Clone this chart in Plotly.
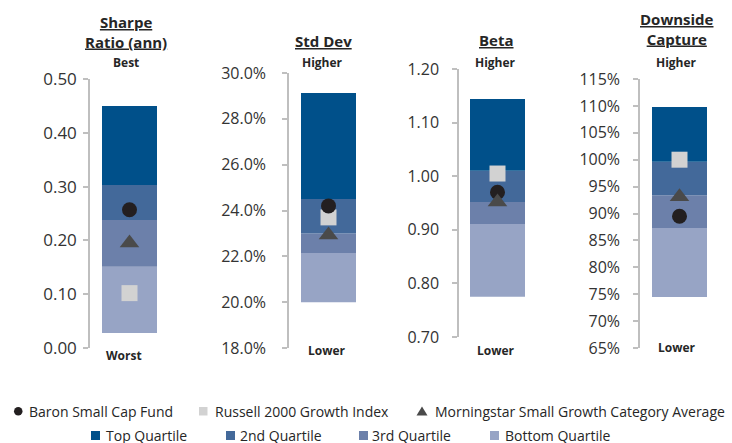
import plotly.graph_objects as go

# ---------------- data ----------------
metrics = ["Sharpe Ratio (ann)", "Std Dev", "Beta", "Downside Capture"]
# quartile band edges (low -> high)
bottom_low = [0.028, 20.0, 0.775, 74.5]
q3_low = [0.151, 22.15, 0.911, 87.3]
q2_low = [0.238, 23.0, 0.952, 93.4]
q1_low = [0.303, 24.5, 1.010, 99.6]
top_high = [0.450, 29.13, 1.144, 109.8]
# series
fund = [0.257, 24.2, 0.970, 89.5]
index_ = [0.102, 23.7, 1.005, 100.0]
category = [0.195, 22.93, 0.952, 93.1]
# axes
y_ranges = [(0.0, 0.5), (18.0, 30.0), (0.70, 1.20), (65.0, 115.0)]
y_dticks = [0.1, 2.0, 0.1, 5.0]
y_formats = [".2f", ".1f", ".2f", ".0f"]
y_suffix = ["", "%", "", "%"]
titles = ["<b><u>Sharpe</u></b><br><b><u>Ratio (ann)</u></b>", "<b><u>Std Dev</u></b>",
          "<b><u>Beta</u></b>", "<b><u>Downside</u></b><br><b><u>Capture</u></b>"]
top_labels = ["Best", "Higher", "Higher", "Higher"]
bottom_labels = ["Worst", "Lower", "Lower", "Lower"]

series_names = ["Baron Small Cap Fund", "Russell 2000 Growth Index",
                "Morningstar Small Growth Category Average"]
quartile_names = ["Top Quartile", "2nd Quartile", "3rd Quartile", "Bottom Quartile"]

# ---------------- style ----------------
W, H = 732, 443
C_TOP, C_2, C_3, C_BOT = "#00508A", "#43699A", "#6C80AA", "#97A4C5"
C_FUND, C_IDX, C_CAT = "#231F20", "#D2D2D2", "#4A4A4A"
FONT = "Open Sans"
TXT = "#262626"

# pixel geometry per panel: axis x, bar center x, y px of top and bottom ticks
axis_x = [90, 289, 459, 640]
bar_cx = [129.5, 328.5, 497.5, 679.5]
bar_w_px = 55
y_top_px = [79, 73, 69, 79]
y_bot_px = [348, 348, 337, 348]
standoff = [3, 13, 10, 10]
tick_sizes = [17, 16, 16, 16]
title_y = [32, 41, 40, 29]
title_x = [126, 323, 496, 677]
toplab_x = [126, 322, 495, 676]
botlab_x = [124, 327, 496, 677]
botlab_y = [355, 350, 350, 347]

fig = go.Figure()
layout = dict(width=W, height=H, margin=dict(l=0, r=0, t=0, b=0, pad=0, autoexpand=False),
              paper_bgcolor="white", plot_bgcolor="white", showlegend=False,
              barmode="overlay", font=dict(family=FONT, color=TXT))
annotations = []
shapes = []

for i in range(4):
    ax = "" if i == 0 else str(i + 1)
    xa, ya = "x" + ax, "y" + ax
    span = bar_cx[i] - axis_x[i]
    bw = bar_w_px / (2 * span)
    bands = [(bottom_low[i], q3_low[i], C_BOT), (q3_low[i], q2_low[i], C_3),
             (q2_low[i], q1_low[i], C_2), (q1_low[i], top_high[i], C_TOP)]
    for lo, hi, col in bands:
        fig.add_trace(go.Bar(x=[0.5], y=[hi - lo], base=[lo], width=bw,
                             marker=dict(color=col, line=dict(width=0)),
                             xaxis=xa, yaxis=ya, hoverinfo="skip"))
    fig.add_trace(go.Scatter(x=[0.5], y=[index_[i]], mode="markers",
                             marker=dict(symbol="square", size=16, color=C_IDX),
                             xaxis=xa, yaxis=ya, name=series_names[1]))
    fig.add_trace(go.Scatter(x=[0.5], y=[fund[i]], mode="markers",
                             marker=dict(symbol="circle", size=15, color=C_FUND),
                             xaxis=xa, yaxis=ya, name=series_names[0]))
    fig.add_trace(go.Scatter(x=[0.5], y=[category[i]], mode="markers",
                             marker=dict(symbol="triangle-up", size=17, color=C_CAT),
                             xaxis=xa, yaxis=ya, name=series_names[2]))

    x0 = axis_x[i] / W
    x1 = (axis_x[i] + 2 * span) / W
    layout["xaxis" + ax] = dict(domain=[x0, x1], range=[0, 1], visible=False,
                                fixedrange=True, automargin=False)
    y0 = 1 - y_bot_px[i] / H
    y1 = 1 - y_top_px[i] / H
    layout["yaxis" + ax] = dict(domain=[y0, y1], range=list(y_ranges[i]),
                                dtick=y_dticks[i], tick0=y_ranges[i][0],
                                tickformat=y_formats[i], ticksuffix=y_suffix[i],
                                showgrid=False, zeroline=False, showline=True,
                                linecolor="#BFBFBF", linewidth=1.5,
                                ticks="outside", ticklen=5, tickcolor="#BFBFBF",
                                tickwidth=1.5, ticklabelstandoff=standoff[i],
                                tickfont=dict(family=FONT, size=tick_sizes[i],
                                              color="#333333"),
                                anchor=xa, fixedrange=True, automargin=False)

    annotations.append(dict(x=title_x[i] / W, y=1 - title_y[i] / H, xref="paper",
                            yref="paper", text=titles[i], showarrow=False,
                            xanchor="center", yanchor="middle",
                            font=dict(family=FONT, size=15, color=TXT)))
    annotations.append(dict(x=toplab_x[i] / W, y=1 - 62 / H, xref="paper", yref="paper",
                            text="<b>" + top_labels[i] + "</b>", showarrow=False,
                            xanchor="center", yanchor="middle",
                            font=dict(family=FONT, size=12, color=TXT)))
    annotations.append(dict(x=botlab_x[i] / W, y=1 - botlab_y[i] / H, xref="paper",
                            yref="paper", text="<b>" + bottom_labels[i] + "</b>",
                            showarrow=False, xanchor="center", yanchor="middle",
                            font=dict(family=FONT, size=12, color=TXT)))

# ---------------- legend (text + symbol shapes) ----------------
def px(x):
    return x / W


def py(y):
    return 1 - y / H


leg_font = dict(family=FONT, size=14, color=TXT)
row1, row2 = 411, 435
leg_text = [(series_names[0], 27, row1), (series_names[1], 213, row1),
            (series_names[2], 433, row1),
            (quartile_names[0], 104, row2), (quartile_names[1], 238, row2),
            (quartile_names[2], 370, row2), (quartile_names[3], 503, row2)]
for t, x, y in leg_text:
    annotations.append(dict(x=px(x), y=py(y), xref="paper", yref="paper", text=t,
                            showarrow=False, xanchor="left", yanchor="middle",
                            font=leg_font))

# circle
shapes.append(dict(type="circle", xref="paper", yref="paper", x0=px(14), x1=px(22.5),
                   y0=py(415.5), y1=py(407), fillcolor=C_FUND, line=dict(width=0)))
# square (index)
shapes.append(dict(type="rect", xref="paper", yref="paper", x0=px(199), x1=px(207.5),
                   y0=py(415.5), y1=py(407), fillcolor=C_IDX, line=dict(width=0)))
# triangle
shapes.append(dict(type="path", xref="paper", yref="paper",
                   path=f"M {px(416.5)} {py(415.5)} L {px(427.5)} {py(415.5)} L {px(422)} {py(406.5)} Z",
                   fillcolor=C_CAT, line=dict(width=0)))
for cx, col in [(91, C_TOP), (226, C_2), (359, C_3), (490, C_BOT)]:
    shapes.append(dict(type="rect", xref="paper", yref="paper", x0=px(cx), x1=px(cx + 9),
                       y0=py(row2 + 5), y1=py(row2 - 4), fillcolor=col,
                       line=dict(width=0)))

layout["annotations"] = annotations
layout["shapes"] = shapes
fig.update_layout(**layout)
fig.write_html("out.html", config={"displayModeBar": False},
               post_script="document.body.style.margin='0px';"
                           "document.body.style.overflow='hidden';")
